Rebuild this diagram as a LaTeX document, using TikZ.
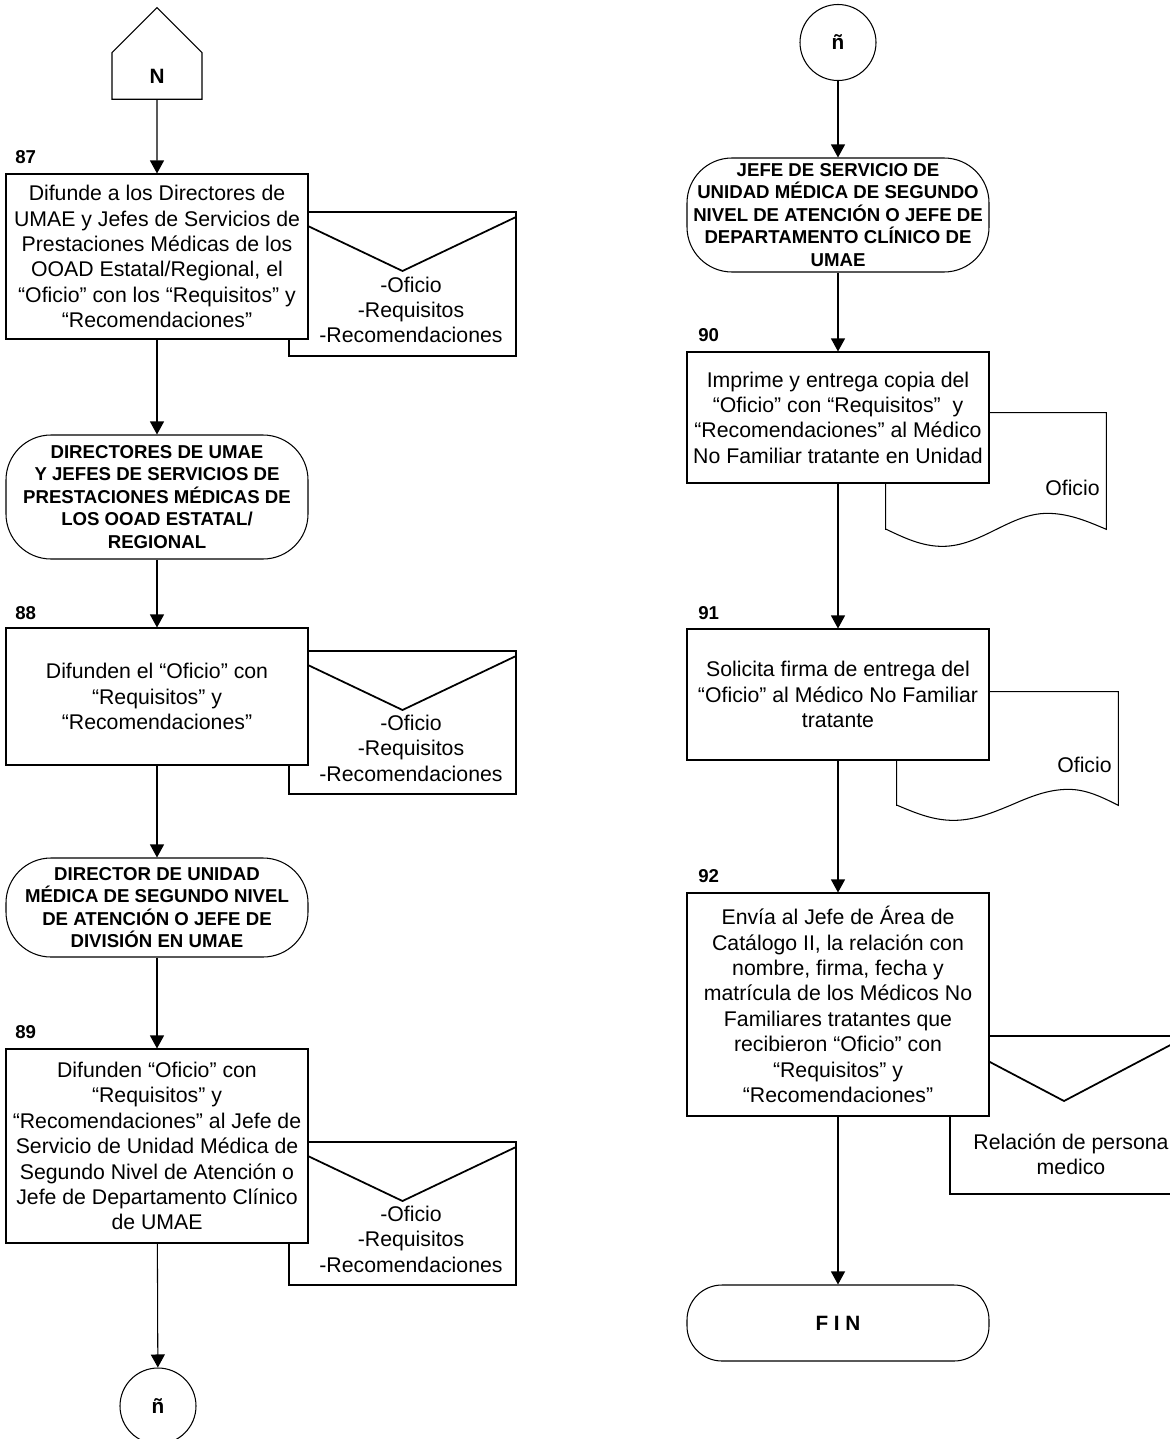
\documentclass[tikz,border=0pt]{standalone}
\usepackage{fontspec}
\setmainfont{Liberation Sans}
\usetikzlibrary{arrows.meta,shapes.symbols}
\tikzset{
    flow/.style={-{Triangle[width=0.28cm,length=0.26cm]}, line width=0.6pt},
    stepbox/.style={draw, line width=0.6pt, fill=white, minimum width=6.04cm, align=center, inner sep=0pt,
        font=\fontsize{12.1}{14.45}\selectfont},
    terminal/.style={draw, line width=0.6pt, fill=white, rounded corners=#1, minimum width=6.04cm, align=center,
        inner sep=0pt, font=\fontsize{10.6}{12.8}\selectfont\bfseries},
    terminal/.default=0.9cm,
    envelope/.style={draw, line width=0.6pt, minimum width=4.54cm,
        path picture={\draw[line width=1pt] ([yshift=-0.1cm]path picture bounding box.north west)
            -- ([yshift=-#1]path picture bounding box.north) -- ([yshift=-0.1cm]path picture bounding box.north east);}},
    envelope/.default=1.18cm,
    envtext/.style={align=center, inner sep=0pt, font=\fontsize{12.1}{14.45}\selectfont},
    docline/.style={draw, line width=0.6pt},
    dochold/.style={inner sep=0pt},
    connector/.style={draw, circle, line width=0.6pt, minimum size=1.52cm, inner sep=0pt,
        font=\fontsize{11.8}{14}\selectfont\bfseries},
    offpage/.style={draw, line width=0.6pt, signal, signal to=north, signal from=nowhere, signal pointer angle=90,
        minimum width=1.8cm, minimum height=1.08cm, inner sep=0pt, font=\fontsize{11.8}{14}\selectfont\bfseries},
    stepnum/.style={anchor=west, inner sep=0pt, font=\fontsize{10.6}{12.8}\selectfont\bfseries}
}
\begin{document}
\begin{tikzpicture}
                \useasboundingbox (0,0) rectangle (23.38,-28.78);
                \node[offpage] (offN) at (3.14,-1.52) {N};
                \node[envelope, minimum height=2.88cm] (env87) at (8.05,-5.68) {};
                \node[envtext] (env87t) at (8.22,-6.20) {-Oficio\\-Requisitos\\-Recomendaciones};
                \node[stepbox, minimum height=3.30cm] (b87) at (3.14,-5.13) {
                    Difunde a los Directores de\\UMAE y Jefes de Servicios de\\Prestaciones Médicas de los\\OOAD Estatal/Regional, el\\“Oficio” con los “Requisitos” y\\“Recomendaciones”
                };
                \node[stepnum] (n87) at (0.30,-3.14) {87};
                \node[terminal, minimum height=2.48cm] (t1) at (3.14,-9.94) {
                    DIRECTORES DE UMAE\\Y JEFES DE SERVICIOS DE\\PRESTACIONES MÉDICAS DE\\LOS OOAD ESTATAL/\\REGIONAL
                };
                \node[envelope, minimum height=2.86cm] (env88) at (8.05,-14.45) {};
                \node[envtext] (env88t) at (8.22,-14.96) {-Oficio\\-Requisitos\\-Recomendaciones};
                \node[stepbox, minimum height=2.74cm] (b88) at (3.14,-13.93) {
                    Difunden el “Oficio” con\\“Requisitos” y\\“Recomendaciones”
                };
                \node[stepnum] (n88) at (0.30,-12.26) {88};
                \node[terminal, minimum height=1.98cm] (t2) at (3.14,-18.15) {
                    DIRECTOR DE UNIDAD\\MÉDICA DE SEGUNDO NIVEL\\DE ATENCIÓN O JEFE DE\\DIVISIÓN EN UMAE
                };
                \node[envelope, minimum height=2.86cm] (env89) at (8.05,-24.27) {};
                \node[envtext] (env89t) at (8.22,-24.78) {-Oficio\\-Requisitos\\-Recomendaciones};
                \node[stepbox, minimum height=3.88cm] (b89) at (3.14,-22.92) {
                    Difunden “Oficio” con\\“Requisitos” y\\“Recomendaciones” al Jefe de\\Servicio de Unidad Médica de\\Segundo Nivel de Atención o\\Jefe de Departamento Clínico\\de UMAE
                };
                \node[stepnum] (n89) at (0.30,-20.64) {89};
                \node[connector] (cn1) at (3.16,-28.12) {ñ};
                \draw[flow] (offN) -- (b87);
                \draw[flow] (b87) -- (t1);
                \draw[flow] (t1) -- (b88);
                \draw[flow] (b88) -- (t2);
                \draw[flow] (t2) -- (b89);
                \draw[flow] (b89) -- (cn1);
                \node[connector] (cn2) at (16.76,-0.85) {ñ};
                \node[terminal, minimum height=2.28cm] (t3) at (16.76,-4.30) {
                    JEFE DE SERVICIO DE\\UNIDAD MÉDICA DE SEGUNDO\\NIVEL DE ATENCIÓN O JEFE DE\\DEPARTAMENTO CLÍNICO DE\\UMAE
                };
                \node[dochold, minimum width=4.40cm, minimum height=2.32cm] (doc90) at (19.92,-9.42) {};
                \draw[docline] (doc90.south west) |- (doc90.north east) -- (doc90.south east)
                    sin ++(-1.18,0.32) cos ++(-1.02,-0.32) sin ++(-1.08,-0.34) cos ++(-1.12,0.34) -- cycle;
                \node[envtext, anchor=east] (doc90t) at (22.00,-9.76) {Oficio};
                \node[stepbox, minimum height=2.62cm] (b90) at (16.76,-8.35) {
                    Imprime y entrega copia del\\“Oficio” con “Requisitos”~ y\\“Recomendaciones” al Médico\\No Familiar tratante en Unidad
                };
                \node[stepnum] (n90) at (13.96,-6.70) {90};
                \node[dochold, minimum width=4.42cm, minimum height=2.26cm] (doc91) at (20.15,-14.97) {};
                \draw[docline] (doc91.south west) |- (doc91.north east) -- (doc91.south east)
                    sin ++(-1.00,0.32) cos ++(-1.16,-0.32) sin ++(-1.14,-0.30) cos ++(-1.12,0.30) -- cycle;
                \node[envtext, anchor=east] (doc91t) at (22.24,-15.30) {Oficio};
                \node[stepbox, minimum height=2.62cm] (b91) at (16.76,-13.89) {
                    Solicita firma de entrega del\\“Oficio” al Médico No Familiar\\tratante
                };
                \node[stepnum] (n91) at (13.96,-12.26) {91};
                \node[envelope=1.3cm, minimum height=3.16cm, minimum width=4.56cm] (env92) at (21.28,-22.30) {};
                \node[envtext] (env92t) at (21.42,-23.09) {Relación de persona\\medico};
                \node[stepbox, minimum height=4.46cm] (b92) at (16.76,-20.09) {
                    Envía al Jefe de Área de\\Catálogo II, la relación con\\nombre, firma, fecha y\\matrícula de los Médicos No\\Familiares tratantes que\\recibieron “Oficio” con\\“Requisitos” y\\“Recomendaciones”
                };
                \node[stepnum] (n92) at (13.96,-17.52) {92};
                \node[terminal=0.7cm, minimum height=1.52cm, font=\fontsize{11.8}{14}\selectfont\bfseries] (fin) at (16.76,-26.46) {F I N};
                \draw[flow] (cn2) -- (t3);
                \draw[flow] (t3) -- (b90);
                \draw[flow] (b90) -- (b91);
                \draw[flow] (b91) -- (b92);
                \draw[flow] (b92) -- (fin);
            \end{tikzpicture}
\end{document}
